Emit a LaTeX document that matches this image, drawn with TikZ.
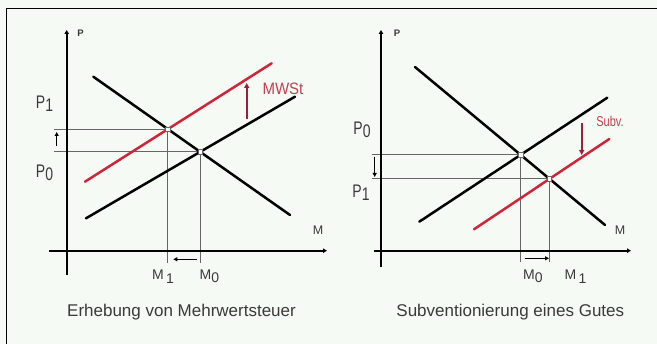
\documentclass[tikz,border=0pt]{standalone}
\usepackage{fontspec}
\setmainfont{Liberation Sans}
\usetikzlibrary{arrows.meta,intersections}
\definecolor{bg}{HTML}{F6FAF4}
\definecolor{redl}{HTML}{D0243A}
\definecolor{reda}{HTML}{A01E3C}
\definecolor{redt}{HTML}{C23F52}
\definecolor{guidec}{HTML}{666666}
\definecolor{txt}{HTML}{3A3A3A}
\begin{document}
\begin{tikzpicture}[x=1pt,y=-1pt,
  curve/.style={line width=2.5pt, black, line cap=round},
  redcurve/.style={line width=2.5pt, redl, line cap=round},
  axisline/.style={line width=1.7pt, black, -{Triangle[length=4pt,width=4.5pt]}},
  guide/.style={line width=0.9pt, guidec},
  shiftarrow/.style={line width=1.5pt, black, -{Triangle[length=4pt,width=4pt]}},
  taxarrow/.style={line width=1.7pt, reda, -{Triangle[length=5pt,width=5pt]}},
  lbl/.style={text=txt, inner sep=0pt, font=\fontsize{14}{14}\selectfont},
  mlbl/.style={text=txt, inner sep=0pt, anchor=base west, font=\fontsize{14}{14}\selectfont},
  captext/.style={text=txt, inner sep=0pt, font=\fontsize{17}{17}\selectfont},
  eqbox/.style={draw=guidec, fill=white, line width=0.6pt, minimum size=4.5pt, inner sep=0pt, rectangle},
]
\fill[bg] (0,0) rectangle (657,344);
\useasboundingbox (0,0) rectangle (657,344);
\draw[line width=1.8pt] (6.5,344) -- (6.5,8.5) -- (657,8.5);

% ---------------- left panel ----------------
\coordinate (LyB) at (66.7,275);
\coordinate (LyT) at (66.7,30);
\coordinate (LxL) at (49,250.7);
\coordinate (LxR) at (327,250.7);
\coordinate (LDa) at (93.3,76.7);
\coordinate (LDb) at (290,215);
\coordinate (LSa) at (86,218.3);
\coordinate (LSb) at (295,96.7);
\coordinate (LRa) at (85,181.7);
\coordinate (LRb) at (271.7,63.3);
\coordinate (LgL) at (54.3,0);
\coordinate (LgB) at (0,263);
\path[name path=LD] (LDa) -- (LDb);
\path[name path=LS] (LSa) -- (LSb);
\path[name path=LR] (LRa) -- (LRb);
\path[name intersections={of=LD and LS, by=LE0}];
\path[name intersections={of=LD and LR, by=LE1}];

\draw[guide] (LE1 -| LgL) -- (LE1) -- (LE1 |- LgB);
\draw[guide] (LE0 -| LgL) -- (LE0) -- (LE0 |- LgB);
\draw[axisline] (LyB) -- (LyT);
\draw[axisline] (LxL) -- (LxR);
\draw[curve] (LDa) -- (LDb);
\draw[curve] (LSa) -- (LSb);
\draw[redcurve] (LRa) -- (LRb);
\node[eqbox] (LE0box) at (LE0) {};
\node[eqbox] (LE1box) at (LE1) {};

\coordinate (LupA) at (56.7,146);
\coordinate (LupB) at (56.7,132);
\draw[shiftarrow] (LupA) -- (LupB);
\coordinate (LlfA) at (196.7,259.3);
\coordinate (LlfB) at (173.3,259.3);
\draw[shiftarrow] (LlfA) -- (LlfB);
\coordinate (LtxA) at (246.7,119);
\coordinate (LtxB) at (246.7,83);
\draw[taxarrow] (LtxA) -- (LtxB);

\node[text=txt, inner sep=0pt, font=\fontsize{9.5}{9.5}\selectfont\bfseries] (LPax) at (80.5,33) {P};
\node[text=txt, inner sep=0pt, font=\fontsize{12.5}{12.5}\selectfont] (LMax) at (318,230) {M};
\node[lbl] (LP1) at (44.5,103.5) {\scalebox{1}[1.3]{P\raisebox{-2pt}{1}}};
\node[lbl] (LP0) at (44.5,173) {\scalebox{1}[1.3]{P\raisebox{-2pt}{0}}};
\node[mlbl] (LM1) at (152,280) {M\raisebox{-4pt}{\,1}};
\node[mlbl] (LM0) at (199.5,280) {M\raisebox{-3pt}{0}};
\node[text=redt, inner sep=0pt, font=\fontsize{15}{15}\selectfont] (LMW) at (283,89) {\scalebox{1}[1.1]{MWSt}};
\node[captext] (Lcap) at (181.5,311.7) {Erhebung von Mehrwertsteuer};

% ---------------- right panel ----------------
\coordinate (RyB) at (381,267);
\coordinate (RyT) at (381,30);
\coordinate (RxL) at (373.7,250.7);
\coordinate (RxR) at (631,250.7);
\coordinate (RDa) at (415,67);
\coordinate (RDb) at (605,225);
\coordinate (RSa) at (419.3,221.7);
\coordinate (RSb) at (607.3,97.7);
\coordinate (RRa) at (474,229.3);
\coordinate (RRb) at (609.3,139);
\coordinate (RgL) at (372,0);
\coordinate (RgB) at (0,262);
\path[name path=RD] (RDa) -- (RDb);
\path[name path=RS] (RSa) -- (RSb);
\path[name path=RR] (RRa) -- (RRb);
\path[name intersections={of=RD and RS, by=RE0}];
\path[name intersections={of=RD and RR, by=RE1}];

\draw[guide] (RE0 -| RgL) -- (RE0);
\draw[guide, line width=1.3pt] (RE0) -- (RE0 |- RgB);
\draw[guide] (RE1 -| RgL) -- (RE1) -- (RE1 |- RgB);
\draw[axisline] (RyB) -- (RyT);
\draw[axisline] (RxL) -- (RxR);
\draw[curve] (RDa) -- (RDb);
\draw[curve] (RSa) -- (RSb);
\draw[redcurve] (RRa) -- (RRb);
\node[eqbox] (RE0box) at (RE0) {};
\node[eqbox] (RE1box) at (RE1) {};

\coordinate (RdnA) at (374.7,157);
\coordinate (RdnB) at (374.7,177);
\draw[shiftarrow] (RdnA) -- (RdnB);
\coordinate (RrtA) at (524.5,258.3);
\coordinate (RrtB) at (549,258.3);
\draw[shiftarrow] (RrtA) -- (RrtB);
\coordinate (RsbA) at (581.7,123);
\coordinate (RsbB) at (581.7,155);
\draw[taxarrow] (RsbA) -- (RsbB);

\node[text=txt, inner sep=0pt, font=\fontsize{9.5}{9.5}\selectfont\bfseries] (RPax) at (397,33) {P};
\node[text=txt, inner sep=0pt, font=\fontsize{12.5}{12.5}\selectfont] (RMax) at (620,230) {M};
\node[lbl] (RP0) at (362,130) {\scalebox{1}[1.3]{P\raisebox{-2pt}{0}}};
\node[lbl] (RP1) at (361,193) {\scalebox{1}[1.3]{P\raisebox{-2pt}{1}}};
\node[mlbl] (RM0) at (523,280) {M\raisebox{-3pt}{0}};
\node[mlbl] (RM1) at (564.5,280) {M\raisebox{-4pt}{\,1}};
\node[text=redt, inner sep=0pt, font=\fontsize{11}{11}\selectfont] (RSub) at (610,121.7) {\scalebox{1}[1.3]{Subv.}};
\node[captext] (Rcap) at (510.3,311.7) {Subventionierung eines Gutes};
\end{tikzpicture}
\end{document}
